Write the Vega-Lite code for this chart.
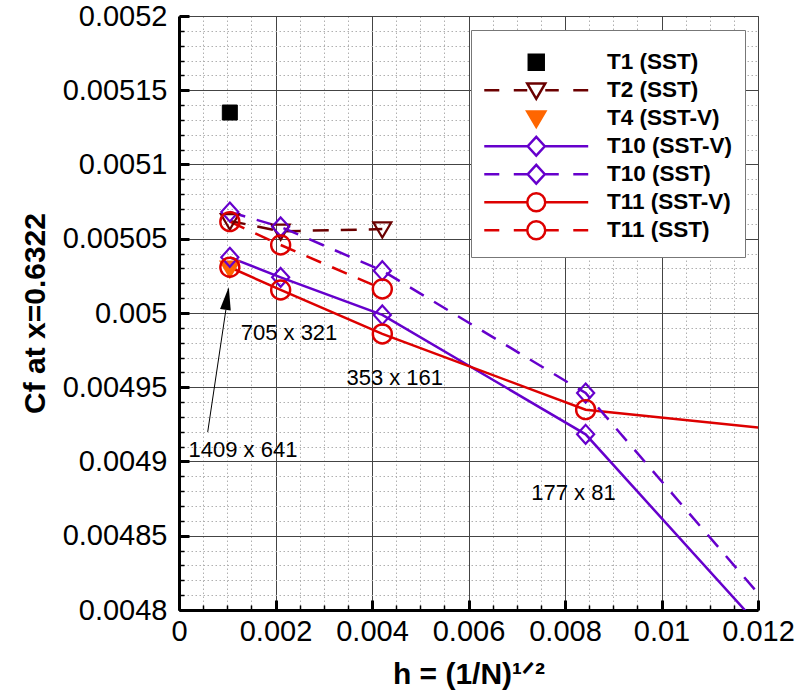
{
  "$schema": "https://vega.github.io/schema/vega-lite/v6.json",
  "autosize": {"type": "none"},
  "padding": {"left": 179, "top": 16, "right": 41, "bottom": 81},
  "width": 579,
  "height": 594,
  "background": "white",
  "config": {
    "view": {"stroke": "#555", "strokeWidth": 1},
    "legend": {
      "symbolOpacity": 1
    }
  },
  "datasets": {
    "pts": [
      {"series": "T1 (SST)", "h": 0.0010534, "cf": 0.005135},
      {"series": "T2 (SST)", "h": 0.0010534, "cf": 0.005062},
      {"series": "T2 (SST)", "h": 0.0021069, "cf": 0.005055},
      {"series": "T2 (SST)", "h": 0.0042138, "cf": 0.0050565},
      {"series": "T4 (SST-V)", "h": 0.0010534, "cf": 0.00503},
      {"series": "T10 (SST-V)", "h": 0.0010534, "cf": 0.0050375},
      {"series": "T10 (SST-V)", "h": 0.0021069, "cf": 0.005024},
      {"series": "T10 (SST-V)", "h": 0.0042138, "cf": 0.0049987},
      {"series": "T10 (SST-V)", "h": 0.0084275, "cf": 0.0049183},
      {"series": "T10 (SST-V)", "h": 0.016855, "cf": 0.004616},
      {"series": "T10 (SST)", "h": 0.0010534, "cf": 0.005068},
      {"series": "T10 (SST)", "h": 0.0021069, "cf": 0.005058},
      {"series": "T10 (SST)", "h": 0.0042138, "cf": 0.0050285},
      {"series": "T10 (SST)", "h": 0.0084275, "cf": 0.0049461},
      {"series": "T10 (SST)", "h": 0.016855, "cf": 0.004628},
      {"series": "T11 (SST-V)", "h": 0.0010534, "cf": 0.0050308},
      {"series": "T11 (SST-V)", "h": 0.0021069, "cf": 0.0050155},
      {"series": "T11 (SST-V)", "h": 0.0042138, "cf": 0.0049859},
      {"series": "T11 (SST-V)", "h": 0.0084275, "cf": 0.0049349},
      {"series": "T11 (SST-V)", "h": 0.016855, "cf": 0.0049064},
      {"series": "T11 (SST)", "h": 0.0010534, "cf": 0.0050615},
      {"series": "T11 (SST)", "h": 0.0021069, "cf": 0.0050458},
      {"series": "T11 (SST)", "h": 0.0042138, "cf": 0.0050162}
    ],
    "notes": [
      {"label": "1409 x 641", "h": 0.001326, "cf": 0.0049077},
      {"label": "705 x 321", "h": 0.00228, "cf": 0.0049865},
      {"label": "353 x 161", "h": 0.004471, "cf": 0.0049562},
      {"label": "177 x 81", "h": 0.008176, "cf": 0.0048785}
    ],
    "arrow": [
      {"h": 0.000595, "cf": 0.0049199, "h_end": 0.000972, "cf_end": 0.0050022}
    ],
    "arrowhead": [
      {"h": 0.000997, "cf": 0.0050098}
    ]
  },
  "encoding": {
    "x": {
      "field": "h", "type": "quantitative",
      "scale": {"domain": [0, 0.012], "nice": false, "zero": false},
      "axis": {
        "title": "h = (1/N)¹ᐟ²",
        "values": [0,0.0005,0.001,0.0015,0.002,0.0025,0.003,0.0035,0.004,0.0045,0.005,0.0055,0.006,0.0065,0.007,0.0075,0.008,0.0085,0.009,0.0095,0.01,0.0105,0.011,0.0115,0.012],
        "format": "~g",
        "labelExpr": "abs(datum.value/0.002 - round(datum.value/0.002)) < 0.001 ? datum.label : ''",
        "labelOverlap": false, "labelFlush": false, "labelBound": false,
        "labelFont": "Liberation Sans", "labelFontSize": 29, "labelColor": "black",
        "labelPadding": 17,
        "tickColor": "black",
        "tickSize": {"condition": {"test": "abs(datum.value/0.002 - round(datum.value/0.002)) < 0.001", "value": -10}, "value": -5},
        "tickWidth": {"condition": {"test": "abs(datum.value/0.002 - round(datum.value/0.002)) < 0.001", "value": 3}, "value": 1.5},
        "grid": true,
        "gridColor": {"condition": {"test": "abs(datum.value/0.002 - round(datum.value/0.002)) < 0.001", "value": "#444"}, "value": "#b0b0b0"},
        "gridDash": {"condition": {"test": "abs(datum.value/0.002 - round(datum.value/0.002)) < 0.001", "value": []}, "value": [1.5, 2.5]},
        "gridWidth": 1,
        "domainColor": "black", "domainWidth": 3,
        "titleFont": "Liberation Sans", "titleFontSize": 30, "titleFontWeight": "bold", "titleColor": "black",
        "titlePadding": 8
      }
    },
    "y": {
      "field": "cf", "type": "quantitative",
      "scale": {"domain": [0.0048, 0.0052], "nice": false, "zero": false},
      "axis": {
        "title": "Cf at x=0.6322",
        "values": [0.0048,0.00481,0.00482,0.00483,0.00484,0.00485,0.00486,0.00487,0.00488,0.00489,0.0049,0.00491,0.00492,0.00493,0.00494,0.00495,0.00496,0.00497,0.00498,0.00499,0.005,0.00501,0.00502,0.00503,0.00504,0.00505,0.00506,0.00507,0.00508,0.00509,0.0051,0.00511,0.00512,0.00513,0.00514,0.00515,0.00516,0.00517,0.00518,0.00519,0.0052],
        "format": "~g",
        "labelExpr": "abs(datum.value/0.00005 - round(datum.value/0.00005)) < 0.001 ? datum.label : ''",
        "labelOverlap": false, "labelFlush": false, "labelBound": false,
        "labelFont": "Liberation Sans", "labelFontSize": 29, "labelColor": "black",
        "labelPadding": 22,
        "tickColor": "black",
        "tickSize": {"condition": {"test": "abs(datum.value/0.00005 - round(datum.value/0.00005)) < 0.001", "value": -10}, "value": -5},
        "tickWidth": {"condition": {"test": "abs(datum.value/0.00005 - round(datum.value/0.00005)) < 0.001", "value": 3}, "value": 1.5},
        "grid": true,
        "gridColor": {"condition": {"test": "abs(datum.value/0.00005 - round(datum.value/0.00005)) < 0.001", "value": "#444"}, "value": "#b0b0b0"},
        "gridDash": {"condition": {"test": "abs(datum.value/0.00005 - round(datum.value/0.00005)) < 0.001", "value": []}, "value": [1.5, 2.5]},
        "gridWidth": 1,
        "domainColor": "black", "domainWidth": 3,
        "titleFont": "Liberation Sans", "titleFontSize": 30, "titleFontWeight": "bold", "titleColor": "black",
        "titlePadding": 12
      }
    }
  },
  "layer": [
    {
      "data": {"name": "pts"},
      "mark": {"type": "point", "clip": true, "size": 324, "strokeWidth": 2.5, "opacity": 0},
      "encoding": {
        "stroke": {"field": "series", "type": "nominal",
          "scale": {"domain": ["T1 (SST)", "T2 (SST)", "T4 (SST-V)", "T10 (SST-V)", "T10 (SST)", "T11 (SST-V)", "T11 (SST)"],
                    "range": ["black", "#6b0000", "#ff6600", "#6600cc", "#6600cc", "#dd0000", "#dd0000"]},
          "legend": {
            "orient": "none", "legendX": 292, "legendY": 14, "direction": "vertical",
            "title": " ", "titleFontSize": 7, "titlePadding": 2,
            "strokeColor": "#777", "fillColor": "white", "padding": 12,
            "labelFont": "Liberation Sans", "labelFontSize": 22.5, "labelFontWeight": "bold", "labelColor": "black", "labelLimit": 400,
            "labelOffset": 101.5, "rowPadding": -2, "symbolSize": 324, "symbolStrokeWidth": 2.5, "symbolOpacity": 1
          }},
        "fill": {"field": "series", "type": "nominal",
          "scale": {"domain": ["T1 (SST)", "T2 (SST)", "T4 (SST-V)", "T10 (SST-V)", "T10 (SST)", "T11 (SST-V)", "T11 (SST)"],
                    "range": ["black", "transparent", "#ff6600", "transparent", "transparent", "transparent", "transparent"]},
          "legend": {
            "orient": "none", "legendX": 292, "legendY": 14, "direction": "vertical",
            "title": " ", "titleFontSize": 7, "titlePadding": 2,
            "strokeColor": "#777", "fillColor": "white", "padding": 12,
            "labelFont": "Liberation Sans", "labelFontSize": 22.5, "labelFontWeight": "bold", "labelColor": "black", "labelLimit": 400,
            "labelOffset": 101.5, "rowPadding": -2, "symbolSize": 324, "symbolStrokeWidth": 2.5, "symbolOpacity": 1
          }},
        "shape": {"field": "series", "type": "nominal",
          "scale": {"domain": ["T1 (SST)", "T2 (SST)", "T4 (SST-V)", "T10 (SST-V)", "T10 (SST)", "T11 (SST-V)", "T11 (SST)"],
                    "range": [
                      "M4.667,-1.05M4.667,1.05M3.837,-0.83H5.497V0.83H3.837Z",
                      "M4.667,-1.05M4.667,1.05M-1.11,0H0.56M2.17,0H3.667M5.667,0H7.17M8.78,0H10.44M3.667,-0.75L5.667,-0.75L4.667,0.95Z",
                      "M4.667,-1.05M4.667,1.05M3.667,-0.75L5.667,-0.75L4.667,0.95Z",
                      "M4.667,-1.05M4.667,1.05M-1.11,0H3.717M5.617,0H10.44M4.667,-1.05L5.617,0L4.667,1.05L3.717,0Z",
                      "M4.667,-1.05M4.667,1.05M-1.11,0H0.56M2.17,0H3.717M5.617,0H7.17M8.78,0H10.44M4.667,-1.05L5.617,0L4.667,1.05L3.717,0Z",
                      "M4.667,-1.05M4.667,1.05M-1.11,0H3.667M5.667,0H10.44M5.667,0A1,1 0 1,1 3.667,0A1,1 0 1,1 5.667,0Z",
                      "M4.667,-1.05M4.667,1.05M-1.11,0H0.56M2.17,0H3.667M5.667,0H7.17M8.78,0H10.44M5.667,0A1,1 0 1,1 3.667,0A1,1 0 1,1 5.667,0Z"
                    ]},
          "legend": {
            "orient": "none", "legendX": 292, "legendY": 14, "direction": "vertical",
            "title": " ", "titleFontSize": 7, "titlePadding": 2,
            "strokeColor": "#777", "fillColor": "white", "padding": 12,
            "labelFont": "Liberation Sans", "labelFontSize": 22.5, "labelFontWeight": "bold", "labelColor": "black", "labelLimit": 400,
            "labelOffset": 101.5, "rowPadding": -2, "symbolSize": 324, "symbolStrokeWidth": 2.5, "symbolOpacity": 1
          }}
      }
    },
    {
      "data": {"name": "pts"},
      "transform": [{"filter": {"field": "series", "oneOf": ["T10 (SST-V)", "T11 (SST-V)"]}}],
      "mark": {"type": "line", "clip": true, "strokeWidth": 2.5},
      "encoding": {
        "stroke": {"field": "series", "type": "nominal"}
      }
    },
    {
      "data": {"name": "pts"},
      "transform": [{"filter": {"field": "series", "oneOf": ["T2 (SST)", "T10 (SST)", "T11 (SST)"]}}],
      "mark": {"type": "line", "clip": true, "strokeWidth": 2.5, "strokeDash": [16, 12]},
      "encoding": {
        "stroke": {"field": "series", "type": "nominal"}
      }
    },
    {
      "data": {"name": "pts"},
      "transform": [{"filter": {"field": "series", "oneOf": ["T1 (SST)"]}}],
      "mark": {"type": "point", "clip": true, "shape": "square", "size": 225, "strokeWidth": 1, "opacity": 1},
      "encoding": {
        "stroke": {"field": "series", "type": "nominal"},
        "fill": {"field": "series", "type": "nominal"}
      }
    },
    {
      "data": {"name": "pts"},
      "transform": [{"filter": {"field": "series", "oneOf": ["T2 (SST)", "T4 (SST-V)"]}}],
      "mark": {"type": "point", "clip": true, "shape": "M-1,-0.75L1,-0.75L0,0.95Z", "size": 324, "strokeWidth": 2.2, "opacity": 1},
      "encoding": {
        "stroke": {"field": "series", "type": "nominal"},
        "fill": {"field": "series", "type": "nominal"}
      }
    },
    {
      "data": {"name": "pts"},
      "transform": [{"filter": {"field": "series", "oneOf": ["T10 (SST-V)", "T10 (SST)"]}}],
      "mark": {"type": "point", "clip": true, "shape": "M0,-1.05L0.95,0L0,1.05L-0.95,0Z", "size": 324, "strokeWidth": 2.2, "opacity": 1},
      "encoding": {
        "stroke": {"field": "series", "type": "nominal"},
        "fill": {"field": "series", "type": "nominal"}
      }
    },
    {
      "data": {"name": "pts"},
      "transform": [{"filter": {"field": "series", "oneOf": ["T11 (SST-V)", "T11 (SST)"]}}],
      "mark": {"type": "point", "clip": true, "shape": "circle", "size": 361, "strokeWidth": 2.4, "opacity": 1},
      "encoding": {
        "stroke": {"field": "series", "type": "nominal"},
        "fill": {"field": "series", "type": "nominal"}
      }
    },
    {
      "data": {"name": "notes"},
      "mark": {"type": "text", "font": "Liberation Sans", "fontSize": 22, "align": "center", "baseline": "middle", "color": "black"},
      "encoding": {"text": {"field": "label", "type": "nominal"}}
    },
    {
      "data": {"name": "arrow"},
      "mark": {"type": "rule", "color": "black", "strokeWidth": 1},
      "encoding": {
        "x2": {"field": "h_end"},
        "y2": {"field": "cf_end"}
      }
    },
    {
      "data": {"name": "arrowhead"},
      "mark": {"type": "point", "shape": "M0,-1L0.47,1L-0.47,1Z", "size": 529, "angle": 8.5, "filled": true, "color": "black", "opacity": 1, "strokeWidth": 0}
    }
  ]
}
